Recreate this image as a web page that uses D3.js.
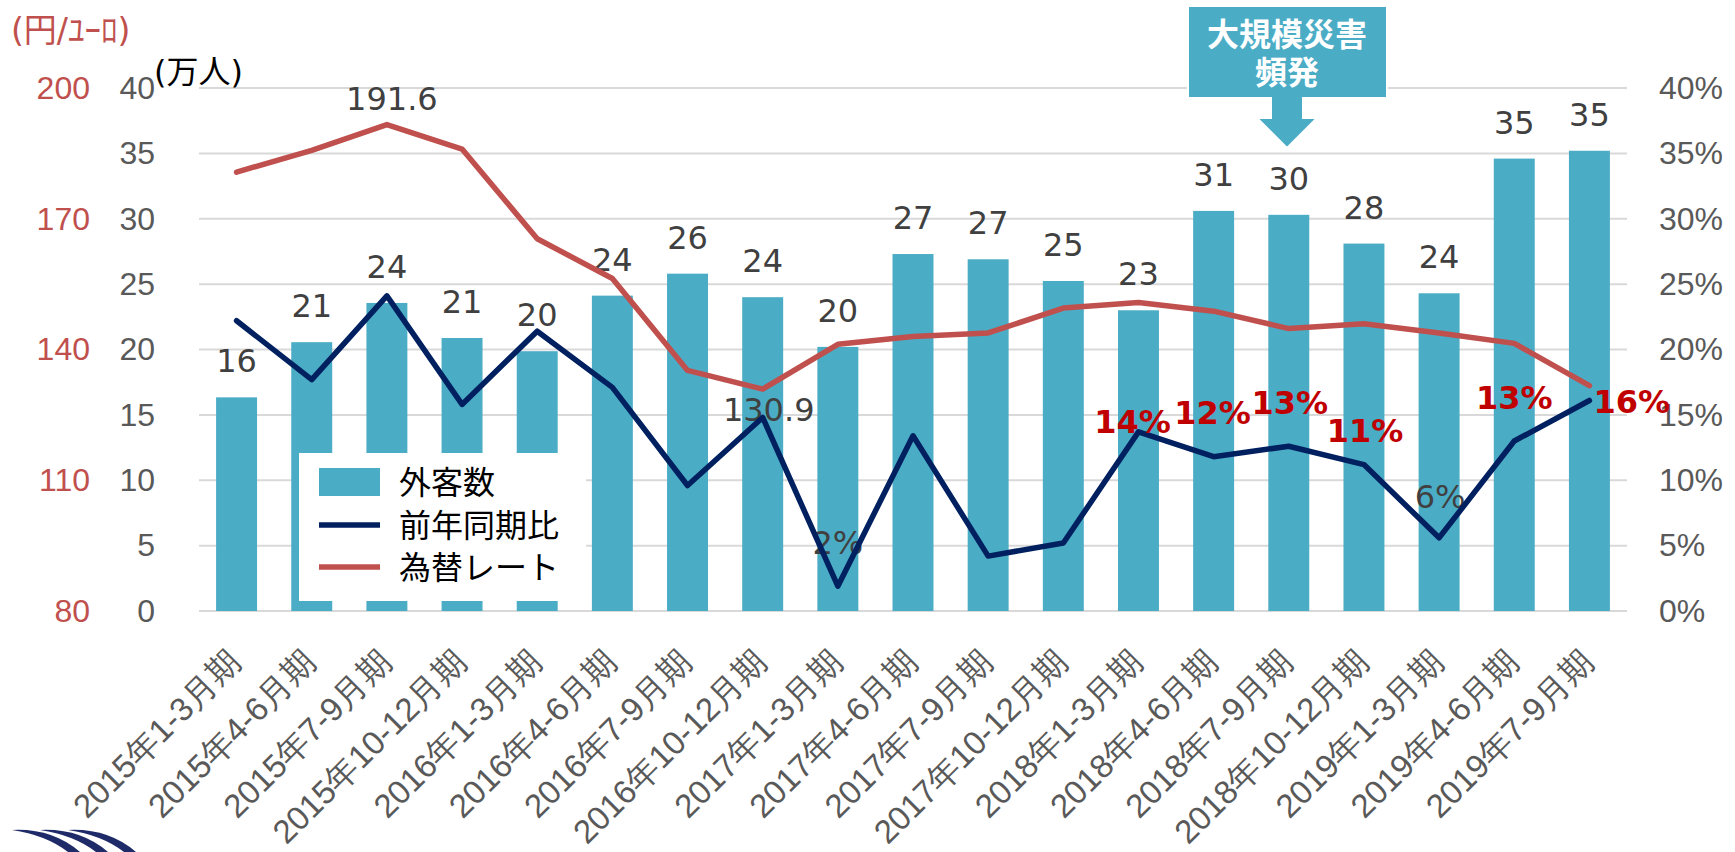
<!DOCTYPE html>
<html lang="ja">
<head>
<meta charset="utf-8">
<title>外客数・前年同期比・為替レート</title>
<script src="https://cdn.jsdelivr.net/npm/d3@7"></script>
<style>
  html, body { margin: 0; padding: 0; background: #fff; }
  svg { display: block; font-family: "DejaVu Sans", "Noto Sans CJK JP", sans-serif; }
</style>
</head>
<body>
<svg id="chart" width="1735" height="852"></svg>
<script>
// 四半期ラベル
const categories = [
  "2015年1-3月期", "2015年4-6月期", "2015年7-9月期", "2015年10-12月期",
  "2016年1-3月期", "2016年4-6月期", "2016年7-9月期", "2016年10-12月期",
  "2017年1-3月期", "2017年4-6月期", "2017年7-9月期", "2017年10-12月期",
  "2018年1-3月期", "2018年4-6月期", "2018年7-9月期", "2018年10-12月期",
  "2019年1-3月期", "2019年4-6月期", "2019年7-9月期"
];
// 外客数（万人）
const visitors = [16.34, 20.56, 23.56, 20.88, 19.87, 24.12, 25.8, 24.0, 20.2, 27.3,
                  26.9, 25.24, 23.0, 30.6, 30.3, 28.1, 24.3, 34.6, 35.2];
// 前年同期比（%）
const yoy = [22.2, 17.7, 24.1, 15.8, 21.4, 17.1, 9.6, 14.8, 1.9, 13.4,
             4.2, 5.2, 13.7, 11.8, 12.6, 11.2, 5.6, 13.0, 16.1];
// 為替レート（円/ユーロ）
const rate = [180.7, 185.7, 191.6, 186.0, 165.4, 156.3, 135.2, 130.9, 141.2, 143.0,
              143.8, 149.5, 150.8, 148.8, 144.8, 145.9, 143.8, 141.4, 131.7];

// 目盛り
const countTicks = [0, 5, 10, 15, 20, 25, 30, 35, 40];
const rateTicks = [80, 110, 140, 170, 200];
const pctTicks = [0, 5, 10, 15, 20, 25, 30, 35, 40];

// ラベルを付ける点
const rateLabelIdx = [2, 7];               // 191.6 / 130.9
const yoyLabelIdx = [8, 12, 13, 14, 15, 16, 17, 18];
const yoyHighlightIdx = [12, 13, 14, 15, 17, 18];

const seriesNames = ["外客数", "前年同期比", "為替レート"];

const C = {
  bar: "#4BACC6",
  navy: "#002060",
  rate: "#C0504D",
  grid: "#D9D9D9",
  tick: "#595959",
  label: "#404040",
  hot: "#C00000"
};

const svg = d3.select("#chart");
const plot = { left: 199, right: 1627, top: 88, bottom: 611 };

const x = d3.scaleBand()
  .domain(categories)
  .range([plot.left, plot.right])
  .paddingInner(0.455)
  .paddingOuter(0.2275);
const cx = d => x(d) + x.bandwidth() / 2;

const yCount = d3.scaleLinear().domain([0, 40]).range([plot.bottom, plot.top]);
const yRate = d3.scaleLinear().domain([80, 200]).range([plot.bottom, plot.top]);
const yPct = d3.scaleLinear().domain([0, 40]).range([plot.bottom, plot.top]);

// 横グリッド線
svg.append("g")
  .selectAll("line")
  .data(countTicks)
  .join("line")
  .attr("x1", plot.left).attr("x2", plot.right)
  .attr("y1", d => yCount(d)).attr("y2", d => yCount(d))
  .attr("stroke", C.grid).attr("stroke-width", 2);

// 左軸（外客数）
const axCount = svg.append("g")
  .attr("transform", "translate(163,0)")
  .call(d3.axisLeft(yCount).tickValues(countTicks).tickSize(0).tickPadding(8));
axCount.select(".domain").remove();
axCount.selectAll("text").attr("fill", C.tick).attr("font-size", 32);

// 左外軸（為替レート）
const axRate = svg.append("g")
  .attr("transform", "translate(98,0)")
  .call(d3.axisLeft(yRate).tickValues(rateTicks).tickSize(0).tickPadding(8));
axRate.select(".domain").remove();
axRate.selectAll("text").attr("fill", C.rate).attr("font-size", 32);

// 右軸（前年同期比）
const axPct = svg.append("g")
  .attr("transform", "translate(1651,0)")
  .call(d3.axisRight(yPct).tickValues(pctTicks).tickFormat(d => d + "%").tickSize(0).tickPadding(8));
axPct.select(".domain").remove();
axPct.selectAll("text").attr("fill", C.tick).attr("font-size", 32);

// 横軸（斜めラベル）
const axX = svg.append("g")
  .attr("transform", `translate(0,${plot.bottom})`)
  .call(d3.axisBottom(x).tickSize(0));
axX.select(".domain").remove();
axX.selectAll("text")
  .attr("fill", C.tick)
  .attr("font-size", 33)
  .attr("text-anchor", "end")
  .attr("y", 0).attr("dy", 0)
  .attr("transform", "translate(6,53) rotate(-45)");

// 軸タイトル
svg.append("text")
  .attr("x", 11).attr("y", 30).attr("dy", "0.35em")
  .attr("fill", C.rate).attr("font-size", 33)
  .text("(円/ﾕｰﾛ)");
svg.append("text")
  .attr("x", 154).attr("y", 72).attr("dy", "0.35em")
  .attr("fill", "#000").attr("font-size", 32)
  .text("(万人)");

// 棒（外客数）
svg.append("g")
  .selectAll("rect")
  .data(visitors)
  .join("rect")
  .attr("x", (d, i) => x(categories[i]))
  .attr("width", x.bandwidth())
  .attr("y", d => yCount(d))
  .attr("height", d => yCount(0) - yCount(d))
  .attr("fill", C.bar);

// 棒の値ラベル
svg.append("g")
  .selectAll("text")
  .data(visitors)
  .join("text")
  .attr("x", (d, i) => cx(categories[i]))
  .attr("y", d => yCount(d) - 25)
  .attr("text-anchor", "middle")
  .attr("fill", C.label).attr("font-size", 32)
  .text(d => d3.format(".0f")(d));

// 為替レートの値ラベル（上・下）
const rateLabelDy = { 2: -15, 7: 32 };
svg.append("g")
  .selectAll("text")
  .data(rateLabelIdx)
  .join("text")
  .attr("x", i => cx(categories[i]) + (i === 7 ? 6 : 5))
  .attr("y", i => yRate(rate[i]) + rateLabelDy[i])
  .attr("text-anchor", "middle")
  .attr("fill", C.label).attr("font-size", 32)
  .text(i => d3.format(".1f")(rate[i]));

// 前年同期比の値ラベル（通常色）
const yoyNudge = {
  8: [0, -32], 12: [-6, 1], 13: [-1, -33], 14: [1, -32],
  15: [1, -23], 16: [1, -30], 17: [0, -32], 18: [4, 13]
};
const yoyLabelG = svg.append("g");
yoyLabelG.selectAll("text")
  .data(yoyLabelIdx.filter(i => !yoyHighlightIdx.includes(i)))
  .join("text")
  .attr("x", i => cx(categories[i]) + yoyNudge[i][0])
  .attr("y", i => yPct(yoy[i]) + yoyNudge[i][1])
  .attr("text-anchor", "middle")
  .attr("fill", C.label).attr("font-size", 32)
  .text(i => d3.format(".0f")(yoy[i]) + "%");

// 折れ線
const line = ys => d3.line()
  .x((d, i) => cx(categories[i]))
  .y(d => ys(d));

svg.append("path")
  .datum(rate)
  .attr("d", line(yRate))
  .attr("fill", "none").attr("stroke", C.rate)
  .attr("stroke-width", 5.5).attr("stroke-linejoin", "round").attr("stroke-linecap", "round");

svg.append("path")
  .datum(yoy)
  .attr("d", line(yPct))
  .attr("fill", "none").attr("stroke", C.navy)
  .attr("stroke-width", 5.5).attr("stroke-linejoin", "round").attr("stroke-linecap", "round");

// 前年同期比の強調ラベル（赤・太字）
svg.append("g")
  .selectAll("text")
  .data(yoyHighlightIdx)
  .join("text")
  .attr("x", i => cx(categories[i]) + yoyNudge[i][0])
  .attr("y", i => yPct(yoy[i]) + yoyNudge[i][1])
  .attr("text-anchor", i => i === 18 ? "start" : "middle")
  .attr("fill", C.hot).attr("font-size", 32).attr("font-weight", "bold")
  .text(i => d3.format(".0f")(yoy[i]) + "%");

// 凡例
const legend = svg.append("g");
legend.append("rect")
  .attr("x", 299).attr("y", 453).attr("width", 287).attr("height", 148)
  .attr("fill", "#fff");
const legendRows = [482, 525, 567];
seriesNames.forEach((name, k) => {
  const cy = legendRows[k];
  if (k === 0) {
    legend.append("rect")
      .attr("x", 319).attr("y", cy - 14).attr("width", 61).attr("height", 28)
      .attr("fill", C.bar);
  } else {
    legend.append("line")
      .attr("x1", 319).attr("x2", 380).attr("y1", cy).attr("y2", cy)
      .attr("stroke", k === 1 ? C.navy : C.rate).attr("stroke-width", 5.5);
  }
  legend.append("text")
    .attr("x", 399).attr("y", cy).attr("dy", "0.36em")
    .attr("fill", "#000").attr("font-size", 32)
    .attr("font-family", "'Noto Sans CJK JP', sans-serif")
    .text(name);
});

// 注記（下向き矢印付き吹き出し）
const note = svg.append("g");
note.append("path")
  .attr("d", "M1188,6 H1387 V98 H1303 V118 H1317 L1287,148 L1257,118 H1271 V98 H1188 Z")
  .attr("fill", C.bar).attr("stroke", "#fff").attr("stroke-width", 2);
["大規模災害", "頻発"].forEach((t, k) => {
  note.append("text")
    .attr("x", 1287).attr("y", [34, 72][k]).attr("dy", "0.36em")
    .attr("text-anchor", "middle")
    .attr("fill", "#fff").attr("font-size", 32).attr("font-weight", "bold")
    .attr("font-family", "'Noto Sans CJK JP', sans-serif")
    .text(t);
});

// ロゴ（左下）
const logo = svg.append("g").attr("fill", "#1F2A68");
[0, 28, 56].forEach(off => {
  logo.append("path")
    .attr("d", `M${12 + off},830 Q${52 + off},828 ${80 + off},852 L${68 + off},852 Q${46 + off},835 ${12 + off},830 Z`);
});
</script>
</body>
</html>
